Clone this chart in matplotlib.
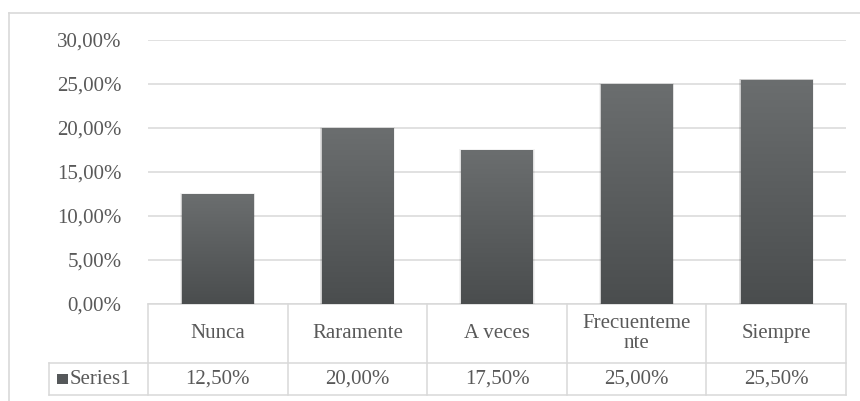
import numpy as np
import matplotlib.pyplot as plt
from matplotlib.patches import Rectangle
from matplotlib.lines import Line2D

plt.rcParams.update({'font.family': ['Liberation Serif', 'DejaVu Serif'], 'font.size': 14})

categories = ['Nunca', 'Raramente', 'A veces', 'Frecuenteme\nnte', 'Siempre']
values = [0.125, 0.200, 0.175, 0.250, 0.255]
value_labels = ['12,50%', '20,00%', '17,50%', '25,00%', '25,50%']
series_name = 'Series1'
yticks = [0.0, 0.05, 0.10, 0.15, 0.20, 0.25, 0.30]

W, H = 860, 401
text_col = '#595959'
line_col = '#d9d9d9'
fs = 15

fig = plt.figure(figsize=(W / 100, H / 100), dpi=100)
# plot area in pixels: x 148..846, y 40..304
ax = fig.add_axes([148 / W, 1 - 304 / H, (846 - 148) / W, (304 - 40) / H])

x = np.arange(len(categories))
ax.set_yticks(yticks)
ax.set_yticklabels([f'{t * 100:.2f}%'.replace('.', ',') for t in yticks],
                   color=text_col, fontsize=fs)
ax.tick_params(axis='y', length=0, pad=19)
ax.set_xticks([])
for s in ax.spines.values():
    s.set_visible(False)
ax.grid(axis='y', color=line_col, lw=1.1)
ax.set_axisbelow(True)

# bars with soft shadow and vertical gradient
bw = 0.51
grad = np.linspace(0, 1, 256).reshape(-1, 1)
cmap = plt.matplotlib.colors.LinearSegmentedColormap.from_list('g', ['#4a4d4e', '#6b6e6f'])
for xi, v in zip(x, values):
    for k, a in zip([0.035, 0.025, 0.015], [0.05, 0.07, 0.09]):
        ax.add_patch(Rectangle((xi - bw / 2 - k * 0.4, 0), bw + k * 0.8, v + k * 0.02,
                               fc='black', alpha=a, lw=0, zorder=2))
    bar = ax.bar(xi, v, width=bw, color='#5a5d5e', zorder=3)[0]
    im = ax.imshow(grad, extent=(xi - bw / 2, xi + bw / 2, 0, v), origin='lower',
                   cmap=cmap, aspect='auto', zorder=4)
    im.set_clip_path(bar)
ax.set_xlim(-0.5, len(categories) - 0.5)
ax.set_ylim(0, 0.30)

# data table below the axis
tr = ax.get_xaxis_transform()
r1 = -59 / 264
r2 = -91 / 264
left_leg = -0.5 - 99 / 139.6
right = len(categories) - 0.5
kw = dict(color=line_col, lw=1.1, transform=tr, clip_on=False, zorder=1)
ax.add_line(Line2D([-0.5, right], [0, 0], **kw))
ax.add_line(Line2D([left_leg, right], [r1, r1], **kw))
ax.add_line(Line2D([left_leg, right], [r2, r2], **kw))
ax.add_line(Line2D([left_leg, left_leg], [r1, r2], **kw))
for b in np.arange(-0.5, right + 0.01, 1.0):
    ax.add_line(Line2D([b, b], [0, r2], **kw))

for xi, c, lab in zip(x, categories, value_labels):
    ax.text(xi, r1 / 2, c, transform=tr, ha='center', va='center', color=text_col,
            fontsize=fs, linespacing=1.1)
    ax.text(xi, (r1 + r2) / 2, lab, transform=tr, ha='center', va='center',
            color=text_col, fontsize=fs)

# legend key
ax.add_patch(Rectangle((left_leg + 8 / 139.6, (r1 + r2) / 2 - 5 / 264), 11 / 139.6, 10 / 264,
                       transform=tr, fc='#55585a', lw=0, clip_on=False))
ax.text(left_leg + 21 / 139.6, (r1 + r2) / 2, series_name, transform=tr, ha='left',
        va='center', color=text_col, fontsize=fs)

# outer chart frame
fig.add_artist(Line2D([9 / W, 9 / W], [0, 1 - 13 / H], color=line_col, lw=1.2,
                      transform=fig.transFigure))
fig.add_artist(Line2D([9 / W, 1], [1 - 13 / H, 1 - 13 / H], color=line_col, lw=1.2,
                      transform=fig.transFigure))

fig.savefig('out.png', dpi=100)
